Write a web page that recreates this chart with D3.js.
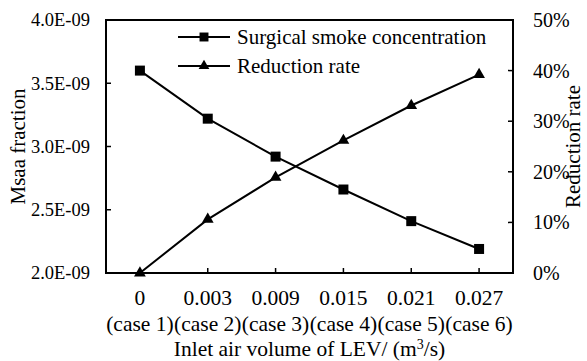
<!DOCTYPE html>
<html>
<head>
<meta charset="utf-8">
<script src="https://d3js.org/d3.v7.min.js"></script>
</head>
<body style="margin:0">
<script>
// data
const flowRates = ['0', '0.003', '0.009', '0.015', '0.021', '0.027'];
const caseNames = ['(case 1)', '(case 2)', '(case 3)', '(case 4)', '(case 5)', '(case 6)'];
const smokeConc = [3.60e-9, 3.22e-9, 2.92e-9, 2.66e-9, 2.41e-9, 2.19e-9];
const reductionRate = [0, 0.106, 0.189, 0.262, 0.331, 0.392];
const leftTicks = [2.0e-9, 2.5e-9, 3.0e-9, 3.5e-9, 4.0e-9];
const rightTicks = [0, 0.1, 0.2, 0.3, 0.4, 0.5];

const FONT = '"Liberation Serif"';

const width = 587, height = 361;
const margin = {top: 20, right: 74, bottom: 88, left: 106};
const innerW = width - margin.left - margin.right;
const innerH = height - margin.top - margin.bottom;

const svg = d3.select('body').append('svg')
  .attr('width', width)
  .attr('height', height)
  .style('font-family', FONT);

const g = svg.append('g')
  .attr('transform', `translate(${margin.left},${margin.top})`);

const x = d3.scalePoint()
  .domain(d3.range(flowRates.length))
  .range([0, innerW])
  .padding(0.5);

const yL = d3.scaleLinear().domain([2e-9, 4e-9]).range([innerH, 0]);
const yR = d3.scaleLinear().domain([0, 0.5]).range([innerH, 0]);

// ticks (pointing inward)
const tickLen = 5;
g.append('g').selectAll('line')
  .data(leftTicks).join('line')
  .attr('x1', 0).attr('x2', tickLen)
  .attr('y1', d => yL(d)).attr('y2', d => yL(d))
  .attr('stroke', '#000').attr('stroke-width', 1.5);

g.append('g').selectAll('line')
  .data(rightTicks).join('line')
  .attr('x1', innerW).attr('x2', innerW - tickLen)
  .attr('y1', d => yR(d)).attr('y2', d => yR(d))
  .attr('stroke', '#000').attr('stroke-width', 1.5);

g.append('g').selectAll('line')
  .data(x.domain()).join('line')
  .attr('x1', d => x(d)).attr('x2', d => x(d))
  .attr('y1', innerH).attr('y2', innerH - tickLen)
  .attr('stroke', '#000').attr('stroke-width', 1.5);

// tick labels
g.append('g').selectAll('text')
  .data(leftTicks).join('text')
  .attr('x', -16).attr('y', d => yL(d))
  .attr('dy', '0.35em')
  .attr('text-anchor', 'end')
  .style('font-family', FONT)
  .style('font-size', '18.5px')
  .text(d => d3.format('.1f')(d * 1e9) + 'E-09');

g.append('g').selectAll('text')
  .data(rightTicks).join('text')
  .attr('x', innerW + 20).attr('y', d => yR(d))
  .attr('dy', '0.35em')
  .style('font-family', FONT)
  .style('font-size', '20px')
  .text(d => d3.format('.0%')(d));

g.append('g').selectAll('text')
  .data(x.domain()).join('text')
  .attr('x', d => x(d)).attr('y', innerH + 32)
  .attr('text-anchor', 'middle')
  .style('font-family', FONT)
  .style('font-size', '21.5px')
  .text(d => flowRates[d]);

g.append('g').selectAll('text')
  .data(x.domain()).join('text')
  .attr('x', d => x(d)).attr('y', innerH + 58)
  .attr('text-anchor', 'middle')
  .style('font-family', FONT)
  .style('font-size', '21.5px')
  .text(d => caseNames[d]);

// axis titles
const xTitle = svg.append('text')
  .attr('x', margin.left + innerW / 2).attr('y', height - 5)
  .attr('text-anchor', 'middle')
  .style('font-family', FONT)
  .style('font-size', '21.5px');
xTitle.append('tspan').text('Inlet air volume of LEV/ (m');
xTitle.append('tspan').attr('baseline-shift', 'super').style('font-size', '14px').text('3');
xTitle.append('tspan').text('/s)');

svg.append('text')
  .attr('transform', `translate(25,${margin.top + innerH / 2}) rotate(-90)`)
  .attr('text-anchor', 'middle')
  .style('font-family', FONT)
  .style('font-size', '21px')
  .text('Msaa fraction');

svg.append('text')
  .attr('transform', `translate(580,${margin.top + innerH / 2}) rotate(-90)`)
  .attr('text-anchor', 'middle')
  .style('font-family', FONT)
  .style('font-size', '21px')
  .text('Reduction rate');

// series
const lineL = d3.line().x((d, i) => x(i)).y(d => yL(d));
const lineR = d3.line().x((d, i) => x(i)).y(d => yR(d));

g.append('path').datum(smokeConc)
  .attr('d', lineL).attr('fill', 'none')
  .attr('stroke', '#000').attr('stroke-width', 2);

g.append('path').datum(reductionRate)
  .attr('d', lineR).attr('fill', 'none')
  .attr('stroke', '#000').attr('stroke-width', 2);

const square = d3.symbol().type(d3.symbolSquare).size(100);
const triangle = d3.symbol().type(d3.symbolTriangle).size(60);

g.append('g').selectAll('path')
  .data(smokeConc).join('path')
  .attr('transform', (d, i) => `translate(${x(i)},${yL(d)})`)
  .attr('d', square);

g.append('g').selectAll('path')
  .data(reductionRate).join('path')
  .attr('transform', (d, i) => `translate(${x(i)},${yR(d)})`)
  .attr('d', triangle);

// frame
g.append('rect')
  .attr('width', innerW).attr('height', innerH)
  .attr('fill', 'none').attr('stroke', '#000').attr('stroke-width', 2);

// legend
const legendItems = [
  {label: 'Surgical smoke concentration', sym: square},
  {label: 'Reduction rate', sym: triangle}
];
const legend = svg.append('g').attr('transform', 'translate(178,37)');
const item = legend.selectAll('g')
  .data(legendItems).join('g')
  .attr('transform', (d, i) => `translate(0,${i * 29})`);
item.append('line')
  .attr('x1', 0).attr('x2', 52)
  .attr('stroke', '#000').attr('stroke-width', 2);
item.append('path')
  .attr('transform', 'translate(26,0)')
  .attr('d', d => d.sym.size(d.sym === square ? 80 : 50)());
item.append('text')
  .attr('x', 59).attr('dy', '0.35em')
  .style('font-family', FONT)
  .style('font-size', '21px')
  .text(d => d.label);
</script>
</body>
</html>
